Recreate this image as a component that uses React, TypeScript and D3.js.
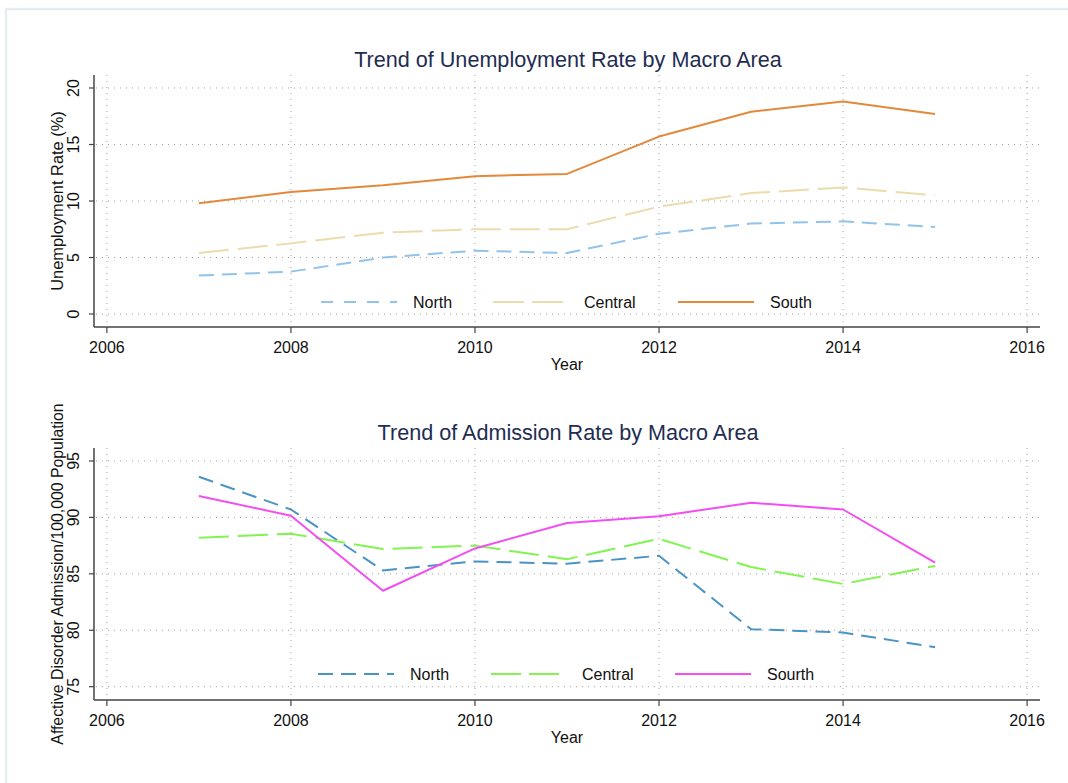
import React from "react";
import * as d3 from "d3";

const years = [2007, 2008, 2009, 2010, 2011, 2012, 2013, 2014, 2015];
const xTicks = [2006, 2008, 2010, 2012, 2014, 2016];

const unempNorth = [3.4, 3.75, 5.0, 5.6, 5.4, 7.1, 8.0, 8.2, 7.7];
const unempCentral = [5.4, 6.25, 7.2, 7.5, 7.5, 9.5, 10.7, 11.2, 10.5];
const unempSouth = [9.8, 10.8, 11.4, 12.2, 12.4, 15.7, 17.9, 18.8, 17.7];
const unempTicks = [0, 5, 10, 15, 20];

const admNorth = [93.6, 90.7, 85.3, 86.1, 85.9, 86.6, 80.1, 79.8, 78.5];
const admCentral = [88.2, 88.55, 87.2, 87.5, 86.3, 88.1, 85.6, 84.1, 85.7];
const admSouth = [91.9, 90.15, 83.5, 87.25, 89.5, 90.1, 91.3, 90.7, 86.0];
const admTicks = [75, 80, 85, 90, 95];

const FONT = "'Liberation Sans', Arial, Helvetica, sans-serif";

type Series = { name: string; values: number[]; color: string; dash: string; legendDash: string };

const topSeries: Series[] = [
  { name: "North", values: unempNorth, color: "#92c3ea", dash: "15 8", legendDash: "12 11" },
  { name: "Central", values: unempCentral, color: "#ebdcae", dash: "30 9", legendDash: "31 8" },
  { name: "South", values: unempSouth, color: "#e2893c", dash: "", legendDash: "" },
];
const bottomSeries: Series[] = [
  { name: "North", values: admNorth, color: "#4a94c4", dash: "15 8", legendDash: "15 8" },
  { name: "Central", values: admCentral, color: "#82f452", dash: "30 9", legendDash: "30 8" },
  { name: "Sourth", values: admSouth, color: "#f24ef0", dash: "", legendDash: "" },
];

type PanelProps = {
  title: string;
  titleY: number;
  top: number;
  bottom: number;
  yDomain: [number, number];
  yTicks: number[];
  yTitle: string;
  yTitleSize: number;
  series: Series[];
  legendY: number;
  legendPos: { x1: number; x2: number; tx: number }[];
};

function Panel(p: PanelProps) {
  const left = 94;
  const right = 1040;
  const x = d3.scaleLinear().domain([2005.86, 2016.14]).range([left, right]);
  const y = d3.scaleLinear().domain(p.yDomain).range([p.bottom, p.top]);
  const line = d3
    .line<number>()
    .x((_, i) => x(years[i]))
    .y((v) => y(v));
  const grid = "#a0a0a0";
  return (
    <g>
      <text x={568} y={p.titleY} textAnchor="middle" fontSize={21.6} fill="#1f2d52" fontFamily={FONT}>
        {p.title}
      </text>
      {p.yTicks.map((t) => (
        <line key={"hg" + t} x1={left + 2} x2={right} y1={y(t)} y2={y(t)} stroke={grid} strokeWidth={1} strokeDasharray="1 5" />
      ))}
      {xTicks.map((t) => (
        <line key={"vg" + t} x1={x(t)} x2={x(t)} y1={p.top} y2={p.bottom - 2} stroke={grid} strokeWidth={1} strokeDasharray="1 5" />
      ))}
      {p.series.map((s) => (
        <path
          key={s.name}
          d={line(s.values) || ""}
          fill="none"
          stroke={s.color}
          strokeWidth={2}
          strokeDasharray={s.dash || undefined}
          strokeLinejoin="round"
        />
      ))}
      <line x1={left} x2={left} y1={p.top} y2={p.bottom} stroke="#444" strokeWidth={1.5} />
      <line x1={left} x2={right} y1={p.bottom} y2={p.bottom} stroke="#444" strokeWidth={1.5} />
      {p.yTicks.map((t) => (
        <g key={"yt" + t}>
          <line x1={left - 5} x2={left} y1={y(t)} y2={y(t)} stroke="#444" strokeWidth={1.2} />
          <text
            transform={`translate(${79},${y(t)}) rotate(-90)`}
            textAnchor="middle"
            fontSize={16}
            fill="#111"
            fontFamily={FONT}
          >
            {t}
          </text>
        </g>
      ))}
      {xTicks.map((t) => (
        <g key={"xt" + t}>
          <line x1={x(t)} x2={x(t)} y1={p.bottom} y2={p.bottom + 6} stroke="#444" strokeWidth={1.2} />
          <text x={x(t)} y={p.bottom + 26} textAnchor="middle" fontSize={16} fill="#111" fontFamily={FONT}>
            {t}
          </text>
        </g>
      ))}
      <text x={567} y={p.bottom + 43} textAnchor="middle" fontSize={16} fill="#111" fontFamily={FONT}>
        Year
      </text>
      <text
        transform={`translate(${63},${(p.top + p.bottom) / 2}) rotate(-90)`}
        textAnchor="middle"
        fontSize={p.yTitleSize}
        fill="#111"
        fontFamily={FONT}
      >
        {p.yTitle}
      </text>
      {p.series.map((s, i) => {
        const lp = p.legendPos[i];
        return (
          <g key={"lg" + s.name}>
            <line
              x1={lp.x1}
              x2={lp.x2}
              y1={p.legendY}
              y2={p.legendY}
              stroke={s.color}
              strokeWidth={2}
              strokeDasharray={s.legendDash || undefined}
            />
            <text x={lp.tx} y={p.legendY + 6} fontSize={16} fill="#111" fontFamily={FONT}>
              {s.name}
            </text>
          </g>
        );
      })}
    </g>
  );
}

export default function App() {
  return (
    <svg
      width={1068}
      height={783}
      style={{ position: "absolute", left: 0, top: 0, background: "#fff" }}
    >
      <rect x={0} y={0} width={1068} height={783} fill="#fff" />
      <line x1={5} x2={1068} y1={9} y2={9} stroke="#e6edf1" strokeWidth={2.5} />
      <line x1={6} x2={6} y1={8} y2={783} stroke="#e6edf1" strokeWidth={2.5} />
      <Panel
        title="Trend of Unemployment Rate by Macro Area"
        titleY={67}
        top={75}
        bottom={327}
        yDomain={[-1.15, 21.15]}
        yTicks={unempTicks}
        yTitle="Unemployment Rate (%)"
        yTitleSize={16.4}
        series={topSeries}
        legendY={302}
        legendPos={[
          { x1: 321, x2: 397, tx: 413 },
          { x1: 493, x2: 563, tx: 584 },
          { x1: 678, x2: 754, tx: 770 },
        ]}
      />
      <Panel
        title="Trend of Admission Rate by Macro Area"
        titleY={440}
        top={448}
        bottom={700}
        yDomain={[73.82, 96.15]}
        yTicks={admTicks}
        yTitle="Affective Disorder Admission/100,000 Population"
        yTitleSize={15.8}
        series={bottomSeries}
        legendY={674}
        legendPos={[
          { x1: 318, x2: 394, tx: 410 },
          { x1: 491, x2: 560, tx: 582 },
          { x1: 675, x2: 751, tx: 767 },
        ]}
      />
    </svg>
  );
}
